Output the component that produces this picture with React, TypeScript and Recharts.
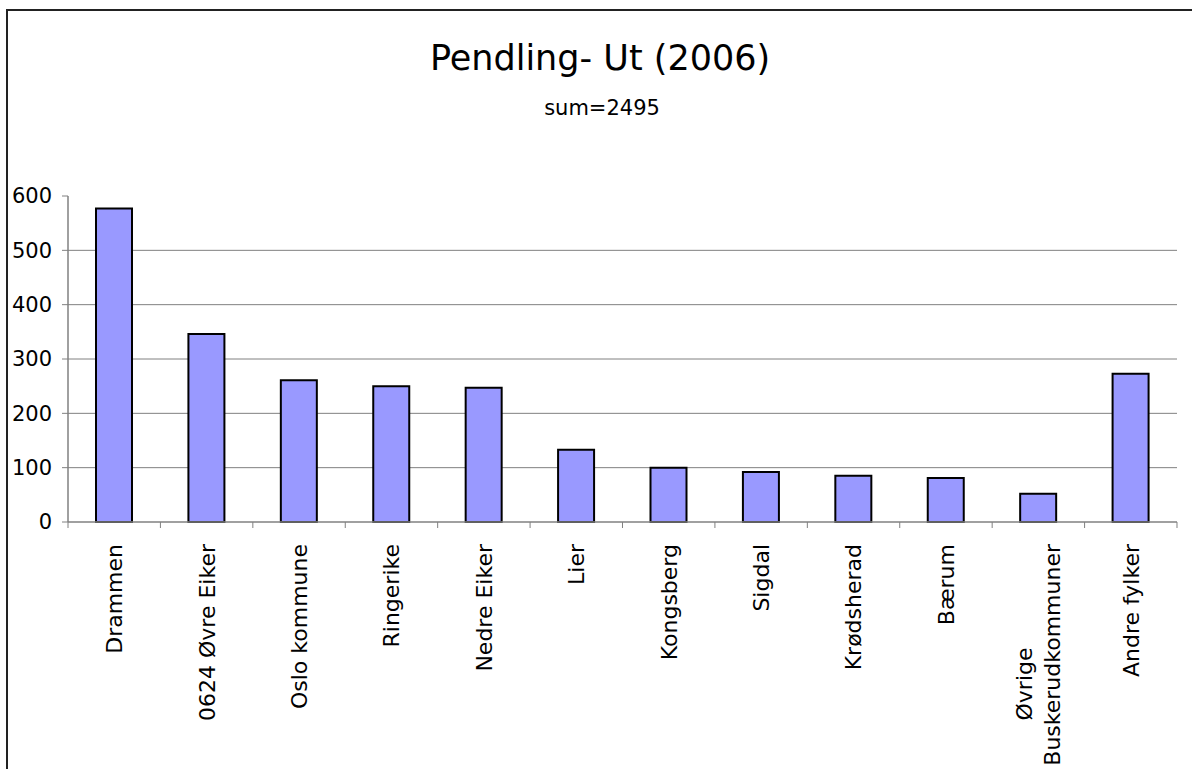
import React from 'react';
import { BarChart, Bar, XAxis, YAxis, CartesianGrid } from 'recharts';

const categories = [
  'Drammen',
  '0624 Øvre Eiker',
  'Oslo kommune',
  'Ringerike',
  'Nedre Eiker',
  'Lier',
  'Kongsberg',
  'Sigdal',
  'Krødsherad',
  'Bærum',
  'Øvrige\nBuskerudkommuner',
  'Andre fylker',
];
const pendlere = [577, 346, 261, 250, 247, 133, 100, 92, 85, 81, 52, 273];
const yTicks = [0, 100, 200, 300, 400, 500, 600];
const gridValues = [100, 200, 300, 400, 500];

const data = categories.map((name, i) => ({ name, value: pendlere[i] }));

const FONT = '"DejaVu Sans", Verdana, sans-serif';
const AXIS_GREY = '#808080';
const LABEL_SIZE = 22;

// rotated label + tick marks sitting on the category borders
const CategoryTick = (props: any) => {
  const { x, y, payload, index, visibleTicksCount } = props;
  const half = payload.offset || 46.2;
  const lines: string[] = String(payload.value).split('\n');
  const last = index === visibleTicksCount - 1;
  const base = LABEL_SIZE * 0.36;
  return (
    <g transform={`translate(${x},${y})`}>
      <line x1={-half} y1={0} x2={-half} y2={6} stroke={AXIS_GREY} strokeWidth={1} />
      {last && <line x1={half} y1={0} x2={half} y2={6} stroke={AXIS_GREY} strokeWidth={1} />}
      {lines.map((line, i) => {
        const longest = line.length === Math.max(...lines.map((l) => l.length));
        return (
          <text
            key={i}
            transform="rotate(-90)"
            x={longest ? -22 : -162}
            y={base + (i - (lines.length - 1) / 2) * 28}
            textAnchor={longest ? 'end' : 'middle'}
            fontSize={LABEL_SIZE}
            fontFamily={FONT}
            fill="#000"
          >
            {line}
          </text>
        );
      })}
    </g>
  );
};

export default function App() {
  return (
    <div style={{ position: 'absolute', left: 0, top: 0, width: 1192, height: 769, overflow: 'hidden', background: '#fff' }}>
      <div
        style={{
          position: 'absolute',
          left: 6,
          top: 9,
          width: 1300,
          height: 900,
          borderTop: '2px solid #222',
          borderLeft: '2px solid #222',
        }}
      />
      <svg style={{ position: 'absolute', left: 0, top: 0 }} width={1192} height={130}>
        <text x={600} y={70} textAnchor="middle" fontSize={35} fontFamily={FONT} fill="#000">
          Pendling- Ut (2006)
        </text>
        <text x={602} y={115} textAnchor="middle" fontSize={21} fontFamily={FONT} fill="#000">
          sum=2495
        </text>
      </svg>
      <div style={{ position: 'absolute', left: 0, top: 0 }}>
        <BarChart width={1192} height={769} data={data} margin={{ top: 196, right: 15, bottom: 0, left: 0 }}>
          <CartesianGrid horizontal vertical={false} horizontalValues={gridValues} stroke={AXIS_GREY} strokeWidth={1} />
          <XAxis
            dataKey="name"
            interval={0}
            height={247}
            tickLine={false}
            tickSize={0}
            tickMargin={0}
            axisLine={{ stroke: AXIS_GREY, strokeWidth: 1.5 }}
            tick={<CategoryTick />}
          />
          <YAxis
            width={68}
            domain={[0, 600]}
            ticks={yTicks}
            interval={0}
            tickSize={6}
            tickMargin={10}
            tickLine={{ stroke: AXIS_GREY }}
            axisLine={{ stroke: AXIS_GREY, strokeWidth: 1.5 }}
            tick={{ fontSize: 21, fontFamily: FONT, fill: '#000' }}
          />
          <Bar dataKey="value" fill="#9999ff" stroke="#000" strokeWidth={2} barSize={36} isAnimationActive={false} />
        </BarChart>
      </div>
    </div>
  );
}
